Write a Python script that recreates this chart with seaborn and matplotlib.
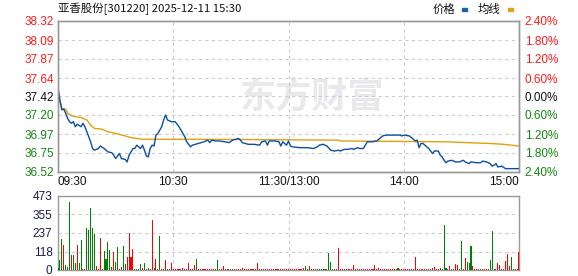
import matplotlib
matplotlib.use("Agg")
import matplotlib.pyplot as plt
import seaborn as sns
import pandas as pd

# ---------------- data ----------------
title_text = "亚香股份[301220] 2025-12-11 15:30"
prev_close = 37.42
price_ticks = [38.32, 38.09, 37.87, 37.64, 37.42, 37.20, 36.97, 36.75, 36.52]
pct_labels = ["2.40%", "1.80%", "1.20%", "0.60%", "0.00%", "0.60%", "1.20%", "1.80%", "2.40%"]
vol_ticks = [0, 118, 237, 355, 473]
time_ticks = [0, 60, 120, 180, 240]
time_labels = ["09:30", "10:30", "11:30/13:00", "14:00", "15:00"]

price_min = [0, 1, 2, 3, 4, 5, 6, 7, 8, 9, 10, 12, 13, 14, 15, 17, 18, 19, 21, 22,
             24, 26, 28, 29, 30, 32, 33, 35, 36, 37, 39, 40, 41, 43, 44, 45, 46, 47, 48, 49,
             50, 51, 52, 54, 55, 56, 57, 59, 61, 63, 64, 66, 67, 69, 70, 73, 76, 78, 79, 80,
             82, 84, 87, 89, 91, 94, 95, 96, 99, 102, 105, 106, 108, 109, 110, 113, 115, 116, 117, 119,
             120, 121, 122, 126, 130, 133, 135, 136, 138, 140, 142, 144, 146, 147, 149, 151, 153, 154, 156, 157,
             159, 161, 164, 165, 166, 168, 169, 171, 178, 179, 180, 183, 185, 186, 187, 188, 189, 190, 192, 193,
             194, 195, 196, 198, 199, 200, 201, 202, 203, 205, 207, 209, 211, 212, 214, 215, 218, 220, 221, 223,
             225, 226, 227, 228, 229, 231, 233, 240]
price_val = [37.53, 37.38, 37.26, 37.27, 37.22, 37.16, 37.12, 37.10, 37.12, 37.06, 37.09, 37.06, 37.10, 37.06, 37.00, 36.88, 36.80, 36.78, 36.80, 36.83,
             36.80, 36.76, 36.75, 36.72, 36.68, 36.74, 36.68, 36.67, 36.64, 36.72, 36.80, 36.80, 36.84, 36.80, 36.84, 36.78, 36.71, 36.70, 36.80, 36.84,
             36.83, 36.96, 36.98, 37.06, 37.14, 37.20, 37.14, 37.12, 37.12, 37.06, 37.02, 36.94, 36.88, 36.82, 36.84, 36.86, 36.88, 36.90, 36.87, 36.90,
             36.89, 36.89, 36.88, 36.87, 36.90, 36.92, 36.90, 36.87, 36.85, 36.85, 36.84, 36.88, 36.89, 36.84, 36.89, 36.89, 36.88, 36.83, 36.88, 36.84,
             36.89, 36.83, 36.82, 36.81, 36.81, 36.80, 36.82, 36.84, 36.85, 36.83, 36.78, 36.77, 36.78, 36.77, 36.79, 36.79, 36.80, 36.79, 36.81, 36.80,
             36.80, 36.88, 36.88, 36.89, 36.89, 36.93, 36.95, 36.96, 36.96, 36.95, 36.96, 36.95, 36.91, 36.89, 36.90, 36.81, 36.86, 36.86, 36.82, 36.80,
             36.77, 36.74, 36.77, 36.77, 36.72, 36.70, 36.66, 36.63, 36.65, 36.66, 36.64, 36.64, 36.66, 36.64, 36.62, 36.64, 36.63, 36.63, 36.65, 36.64,
             36.62, 36.59, 36.60, 36.62, 36.58, 36.59, 36.56, 36.56]

avg_min = [0, 1, 2, 4, 5, 7, 9, 12, 15, 17, 19, 23, 26, 30, 35, 38, 44, 72, 146, 147, 202, 213, 225, 232, 240]
avg_val = [37.48, 37.36, 37.28, 37.27, 37.22, 37.19, 37.18, 37.17, 37.14, 37.08, 37.04, 37.03, 37.00, 36.98, 36.95, 36.93, 36.91, 36.91,
           36.90, 36.89, 36.88, 36.87, 36.86, 36.85, 36.83]

# per-minute volume (lots) and direction (u = up/red, d = down/green)
volume = [10, 64, 196, 160, 32, 21, 435, 96, 96, 43,
          160, 43, 192, 9, 9, 266, 256, 394, 266, 228,
          26, 9, 202, 9, 121, 70, 177, 128, 21, 117,
          53, 149, 6, 17, 153, 38, 85, 234, 85, 134,
          9, 4, 4, 38, 11, 47, 9, 11, 5, 320,
          11, 70, 6, 217, 6, 5, 64, 6, 6, 43,
          6, 6, 6, 6, 6, 15, 6, 6, 47, 6,
          6, 34, 72, 6, 6, 6, 6, 6, 6, 6,
          6, 6, 6, 66, 6, 6, 28, 6, 6, 6,
          6, 6, 6, 6, 6, 6, 13, 6, 6, 6,
          6, 6, 6, 6, 47, 6, 6, 6, 6, 6,
          6, 6, 6, 6, 6, 6, 6, 6, 6, 6,
          6, 6, 6, 6, 6, 6, 6, 6, 13, 28,
          6, 28, 6, 6, 6, 6, 6, 6, 6, 6,
          6, 111, 53, 6, 6, 6, 143, 6, 6, 6,
          6, 6, 6, 6, 34, 6, 6, 6, 6, 6,
          6, 6, 6, 6, 6, 34, 6, 13, 6, 6,
          6, 6, 6, 6, 6, 6, 6, 13, 6, 6,
          6, 6, 6, 6, 6, 6, 83, 6, 6, 6,
          6, 6, 6, 6, 6, 15, 19, 6, 6, 13,
          6, 288, 11, 6, 26, 6, 6, 38, 32, 6,
          185, 6, 77, 51, 43, 153, 26, 6, 6, 6,
          6, 6, 6, 6, 6, 64, 249, 6, 6, 45,
          32, 6, 6, 58, 102, 26, 83, 6, 6, 6,
          115]
direction = list("ddduddduddudduuddddduuuddddddudduudduuuu"
                 "dddduddduuduuduuudduuuuuuuuduuuuduuuuuuu"
                 "uuudduuuudduuduuuuuuuuduuuduuuuuuuuuuuuu"
                 "uuuuuuuuudduddududddudddduuuuduuuuuduuuu"
                 "uuuuuuuuuuuuuuuudduuuuuuuduuuuuuuuduuudu"
                 "dddduduuuudduddduuuuduuuuddduuuuuuuudduu"
                 "u")

# ---------------- figure ----------------
sns.set_theme(style="white")
plt.rcParams["font.family"] = ["Liberation Sans", "DejaVu Sans"]

W, H = 578, 276
fig = plt.figure(figsize=(W / 100, H / 100), dpi=100)

L, R = 58 / W, 519 / W
ax = fig.add_axes([L, 1 - 172 / H, R - L, (172 - 21) / H])
axv = fig.add_axes([L, 1 - 270 / H, R - L, (270 - 196) / H])

red, green, black = "#ff1a1a", "#118811", "#111111"
spine_c = "#999999"
grid_c = "#cccccc"
cjk = ["Noto Sans CJK SC", "DejaVu Sans"]

# watermark
ax.text((240 - 58) / 461, 1 - (97 - 21) / 151, "东方财富", transform=ax.transAxes,
        fontsize=26, fontweight="bold", color="#e9e9ed", ha="left", va="center",
        family=cjk, zorder=0)

# price lines
sns.lineplot(x=avg_min, y=avg_val, color="#e0a010", linewidth=1.0, ax=ax, zorder=3)
sns.lineplot(x=price_min, y=price_val, color="#0a4fa3", linewidth=1.0, ax=ax, zorder=4)

ax.set_xlim(0, 240)
ax.set_ylim(price_ticks[-1], price_ticks[0])
ax.set_yticks(price_ticks)
tick_cols = [red] * 4 + [black] + [green] * 4
ax.set_yticklabels([f"{v:.2f}" for v in price_ticks], fontsize=8.5)
for lab, c in zip(ax.get_yticklabels(), tick_cols):
    lab.set_color(c)
ax.tick_params(axis="y", length=0, pad=3)
ax.set_xticks(time_ticks)
ax.set_xticklabels(time_labels, fontsize=8.5, color=black)
ax.tick_params(axis="x", length=0, pad=3)
xl = ax.get_xticklabels()
xl[0].set_ha("left")
xl[-1].set_ha("right")
ax.set_xlabel("")
ax.set_ylabel("")

ax2 = ax.twinx()
ax2.set_ylim(ax.get_ylim())
ax2.set_yticks(price_ticks)
ax2.set_yticklabels(pct_labels, fontsize=8.5)
for lab, c in zip(ax2.get_yticklabels(), tick_cols):
    lab.set_color(c)
ax2.tick_params(axis="y", length=0, pad=4)
ax2.grid(False)

for a in (ax, ax2, axv):
    for s in a.spines.values():
        s.set_color(spine_c)
        s.set_linewidth(1.0)

for v in price_ticks[1:-1]:
    ax.axhline(v, color=grid_c, linewidth=0.8, linestyle=(0, (3, 3)), zorder=1)
for t in time_ticks[1:-1]:
    ax.axvline(t, color=grid_c, linewidth=0.8, linestyle=(0, (3, 3)), zorder=1)

# volume bars (single call so the bar width comes from the full 1-minute spacing)
vdf = pd.DataFrame({"minute": list(range(len(volume))), "volume": volume, "dir": direction})
sns.barplot(data=vdf, x="minute", y="volume", hue="dir",
            palette={"u": "#ff0000", "d": "#008000"}, native_scale=True,
            dodge=False, width=0.55, saturation=1, errorbar=None, legend=False,
            ax=axv, zorder=3, edgecolor="none", linewidth=0, antialiased=False)
axv.set_xlim(0, 240)
axv.set_ylim(0, vol_ticks[-1])
axv.set_yticks(vol_ticks)
axv.set_yticklabels([str(v) for v in vol_ticks], fontsize=8.5, color="#1c1c48")
axv.tick_params(axis="y", length=0, pad=4)
axv.set_xticks([])
axv.set_xlabel("")
axv.set_ylabel("")
for v in vol_ticks[1:-1]:
    axv.axhline(v, color=grid_c, linewidth=0.8, linestyle=(0, (3, 3)), zorder=1)
for t in time_ticks[1:-1]:
    axv.axvline(t, color=grid_c, linewidth=0.8, linestyle=(0, (3, 3)), zorder=1)

# title and legend
fig.text(58 / W, 1 - 9 / H, title_text, fontsize=8.2, family=cjk, color=black,
         ha="left", va="center")
fig.text(455 / W, 1 - 9 / H, "价格", fontsize=8.2, family=cjk, color=black, ha="right", va="center")
fig.patches.append(plt.Rectangle((462 / W, 1 - 11 / H), 5 / W, 3 / H, color="#1f5fae",
                                 transform=fig.transFigure, figure=fig))
fig.text(500 / W, 1 - 9 / H, "均线", fontsize=8.2, family=cjk, color=black, ha="right", va="center")
fig.patches.append(plt.Rectangle((508 / W, 1 - 11 / H), 5 / W, 3 / H, color="#e3a21a",
                                 transform=fig.transFigure, figure=fig))

fig.savefig("out.png", dpi=100)
